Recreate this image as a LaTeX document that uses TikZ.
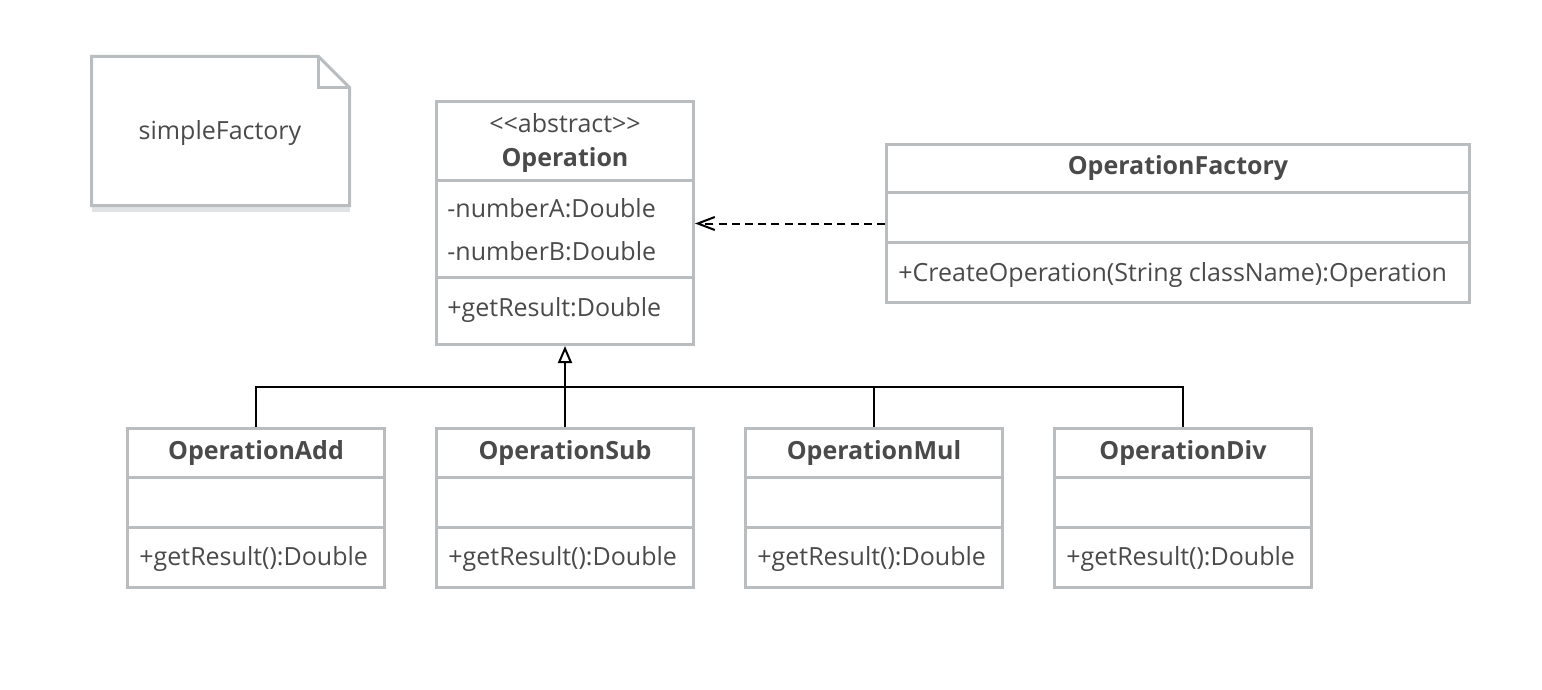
\documentclass[tikz,border=0pt]{standalone}
\usepackage{fontspec}
\setmainfont{Open Sans}
\definecolor{umlgray}{RGB}{185,189,191}
\definecolor{umlshadow}{RGB}{224,226,227}
\definecolor{umltext}{RGB}{74,74,74}
\usetikzlibrary{arrows.meta,positioning,calc}

\begin{document}
\begin{tikzpicture}[x=0.5pt,y=-0.5pt,
  classbox/.style={draw=umlgray, line width=1.5pt, fill=white, anchor=north west, inner sep=0pt},
  divider/.style={draw=umlgray, line width=1.5pt},
  classname/.style={font=\fontsize{12.5}{15}\selectfont\bfseries, text=umltext, anchor=base, inner sep=0pt},
  stereo/.style={font=\fontsize{12.5}{15}\selectfont, text=umltext, anchor=base, inner sep=0pt},
  member/.style={font=\fontsize{12.5}{15}\selectfont, text=umltext, anchor=base west, inner sep=0pt},
  genline/.style={draw=black, line width=1pt},
  dep/.style={draw=black, line width=1pt, dash pattern=on 4pt off 2.6pt, -{Straight Barb[length=8.5pt,width=6.5pt]}}]
  \useasboundingbox (0,0) rectangle (1542,690);

  % note
  \node[inner sep=0pt, outer sep=0pt, minimum width=129pt, minimum height=74.5pt, anchor=north west] (note) at (91.5,56.5) {};
  \fill[umlshadow] (note.south west) rectangle ($(note.south east)+(0,6)$);
  \draw[divider, line join=miter] (note.north west) -- ($(note.north east)+(-31,0)$) -- ($(note.north east)+(0,31)$)
    -- (note.south east) -- (note.south west) -- cycle;
  \draw[divider] ($(note.north east)+(-31,0)$) |- ($(note.north east)+(0,31)$);
  \node[stereo] (notetext) at (220,140) {simpleFactory};

  % abstract class
  \node[classbox, minimum width=128.5pt, minimum height=121.5pt] (op) at (435,100) {};
  \draw[divider] (op.west |- 0,180) -- (op.east |- 0,180);
  \draw[divider] (op.west |- 0,277.5) -- (op.east |- 0,277.5);
  \node[stereo] (opstereo) at (565,133) {<\kern0pt<abstract>\kern0pt>};
  \node[classname] (opname) at (565,166) {Operation};
  \node[member] (opa) at (447,217) {-numberA:Double};
  \node[member] (opb) at (447,260) {-numberB:Double};
  \node[member] (opres) at (447,316) {+getResult:Double};

  % factory
  \node[classbox, minimum width=291.5pt, minimum height=79pt] (fac) at (885,143) {};
  \draw[divider] (fac.west |- 0,192.5) -- (fac.east |- 0,192.5);
  \draw[divider] (fac.west |- 0,242.5) -- (fac.east |- 0,242.5);
  \node[classname] (facname) at (1178,175) {OperationFactory};
  \node[member] (faccreate) at (898,281) {+CreateOperation(String className):Operation};

  % subclasses
  \foreach \cls/\x in {add/126, sub/435, mul/744, div/1053}
    \node[classbox, minimum width=128.5pt, minimum height=79.5pt] (\cls) at (\x,427) {};
  \foreach \cls in {add, sub, mul, div} {
    \draw[divider] (\cls.west |- 0,477.5) -- (\cls.east |- 0,477.5);
    \draw[divider] (\cls.west |- 0,527.5) -- (\cls.east |- 0,527.5);
    \node[member] (\cls res) at ([xshift=6.5pt]\cls.west |- 0,565) {+getResult():Double};
  }
  \node[classname] (addname) at (add.north |- 0,459) {OperationAdd};
  \node[classname] (subname) at (sub.north |- 0,459) {OperationSub};
  \node[classname] (mulname) at (mul.north |- 0,459) {OperationMul};
  \node[classname] (divname) at (div.north |- 0,459) {OperationDiv};

  % connectors
  \draw[dep] (fac.west) -- (op.east |- fac.west);
  \coordinate (bus) at (565,387);
  \draw[genline] (add.north) |- (bus) -| (div.north);
  \draw[genline] (mul.north) -- (mul.north |- bus);
  \draw[genline, -{Triangle[open, length=8.5pt, width=7pt]}] (sub.north) -- (op.south);
\end{tikzpicture}
\end{document}
